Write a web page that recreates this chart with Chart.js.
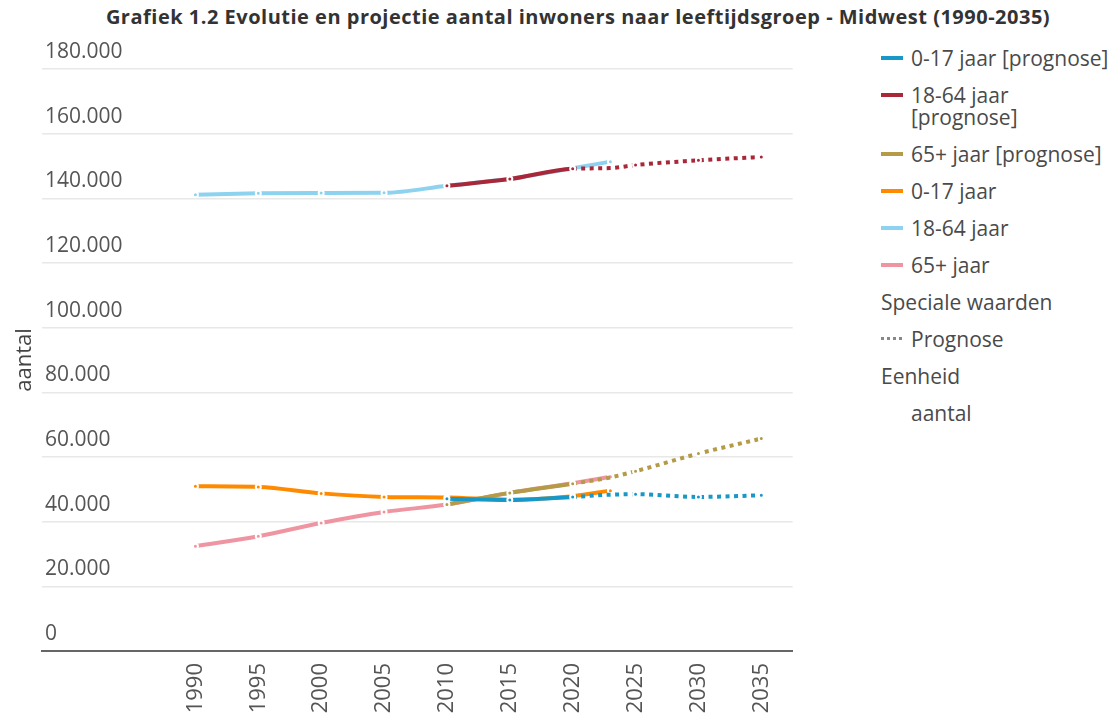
<!DOCTYPE html>
<html>
<head>
<meta charset="utf-8">
<script src="https://cdn.jsdelivr.net/npm/chart.js@4/dist/chart.umd.min.js"></script>
<style>
  html, body { margin: 0; padding: 0; background: #fff; }
  body { width: 1116px; height: 719px; position: relative; overflow: hidden; font-family: "Open Sans", sans-serif; }
  #title { position: absolute; top: 3px; left: 0; width: 1156px; text-align: center; font-weight: bold; font-size: 20px; letter-spacing: 0.5px; color: #333; white-space: nowrap; }
  #chartBox { position: absolute; left: 0; top: 0; width: 800px; height: 719px; }
  #legend { position: absolute; left: 881px; top: 47px; width: 235px; color: #4a4a4a; font-size: 21px; }
  .item { display: flex; align-items: flex-start; line-height: 22px; margin-bottom: 15px; }
  .swatch { flex: none; width: 22px; height: 4px; margin-top: 9px; margin-right: 8px; }
  .dots { background: repeating-linear-gradient(90deg, #888 0 3px, transparent 3px 6px); height: 3px; }
  .text { width: 200px; }
</style>
</head>
<body>
<div id="title">Grafiek 1.2 Evolutie en projectie aantal inwoners naar leeftijdsgroep - Midwest (1990-2035)</div>
<div id="chartBox"><canvas id="lineChart"></canvas></div>
<div id="legend"></div>
<script>
const yearsObserved = [1990, 1995, 2000, 2005, 2010, 2015, 2020, 2023];
const youthObserved = [50950, 50750, 48750, 47650, 47450, 46800, 47900, 49600];
const adultsObserved = [141100, 141550, 141650, 141700, 143900, 146050, 149300, 151350];
const seniorsObserved = [32400, 35500, 39600, 43000, 45300, 48900, 51900, 53900];

const yearsPrognose = [2010, 2015, 2020, 2023, 2025, 2030, 2035];
const youthPrognose = [47050, 46700, 47650, 48350, 48500, 47650, 48150];
const adultsPrognose = [143900, 145950, 149150, 149350, 150300, 151750, 152800];
const seniorsPrognose = [45300, 48900, 51750, 53700, 55600, 61050, 65700];

const xTickYears = [1990, 1995, 2000, 2005, 2010, 2015, 2020, 2025, 2030, 2035];
const prognoseStart = 2020;

const seriesLabels = ['0-17 jaar [prognose]', '18-64 jaar [prognose]', '65+ jaar [prognose]', '0-17 jaar', '18-64 jaar', '65+ jaar'];
const seriesColors = ['#1798c6', '#a8283a', '#b49b47', '#ff8a00', '#8dd3ef', '#ef95a2'];

function toPoints(xs, ys) {
    return xs.map((x, i) => ({ x: x, y: ys[i] }));
}

function formatNumber(v) {
    return String(v).replace(/\B(?=(\d{3})+(?!\d))/g, '.');
}

function makeDataset(i, xs, ys, isPrognose) {
    return {
        label: seriesLabels[i],
        data: toPoints(xs, ys),
        borderColor: seriesColors[i],
        backgroundColor: seriesColors[i],
        borderWidth: 4,
        borderCapStyle: 'butt',
        cubicInterpolationMode: 'monotone',
        pointRadius: ctx => (!isPrognose || ctx.raw.x % 5 === 0) ? 2.5 : 0,
        pointBorderColor: '#fff',
        pointBorderWidth: 2,
        pointBackgroundColor: seriesColors[i],
        segment: isPrognose ? { borderDash: ctx => ctx.p0.parsed.x >= prognoseStart ? [4, 4.5] : undefined } : undefined
    };
}

const datasets = [
    makeDataset(0, yearsPrognose, youthPrognose, true),
    makeDataset(1, yearsPrognose, adultsPrognose, true),
    makeDataset(2, yearsPrognose, seniorsPrognose, true),
    makeDataset(3, yearsObserved, youthObserved, false),
    makeDataset(4, yearsObserved, adultsObserved, false),
    makeDataset(5, yearsObserved, seniorsObserved, false)
];

new Chart(document.getElementById('lineChart'), {
    type: 'line',
    data: { datasets: datasets },
    options: {
        responsive: true,
        maintainAspectRatio: false,
        animation: false,
        layout: { padding: { top: 69, right: 7, bottom: 0, left: 0 } },
        plugins: { legend: { display: false }, tooltip: { enabled: false } },
        scales: {
            x: {
                type: 'linear',
                min: 1977.8,
                max: 2037.5,
                afterBuildTicks: axis => { axis.ticks = xTickYears.map(v => ({ value: v })); },
                afterFit: axis => { axis.height = 68; },
                grid: { display: false, drawTicks: false },
                border: { display: true, color: '#666', width: 2 },
                ticks: {
                    minRotation: 90, maxRotation: 90, padding: 12,
                    color: '#555', font: { family: 'Open Sans', size: 22 },
                    callback: v => String(v)
                }
            },
            y: {
                min: 0,
                max: 180000,
                afterFit: axis => { axis.width = 42; },
                grid: { color: '#e8e8e8', lineWidth: 1.5, drawTicks: false },
                border: { display: false },
                title: { display: true, text: 'aantal', color: '#444', font: { family: 'Open Sans', size: 22 }, padding: { top: 12, bottom: 0 } },
                ticks: {
                    stepSize: 20000, mirror: true, labelOffset: -17, padding: 3,
                    color: '#555', font: { family: 'Open Sans', size: 21 },
                    callback: v => formatNumber(v)
                }
            }
        }
    }
});

// legend on the right, built from the series arrays
const legend = document.getElementById('legend');
seriesLabels.forEach((label, i) => {
    legend.insertAdjacentHTML('beforeend',
        `<div class="item"><span class="swatch" style="background:${seriesColors[i]}"></span><span class="text">${label}</span></div>`);
});
legend.insertAdjacentHTML('beforeend', `<div class="item"><span>Speciale waarden</span></div>`);
legend.insertAdjacentHTML('beforeend', `<div class="item"><span class="swatch dots"></span><span>Prognose</span></div>`);
legend.insertAdjacentHTML('beforeend', `<div class="item"><span>Eenheid</span></div>`);
legend.insertAdjacentHTML('beforeend', `<div class="item" style="padding-left:30px"><span>aantal</span></div>`);
</script>
</body>
</html>
